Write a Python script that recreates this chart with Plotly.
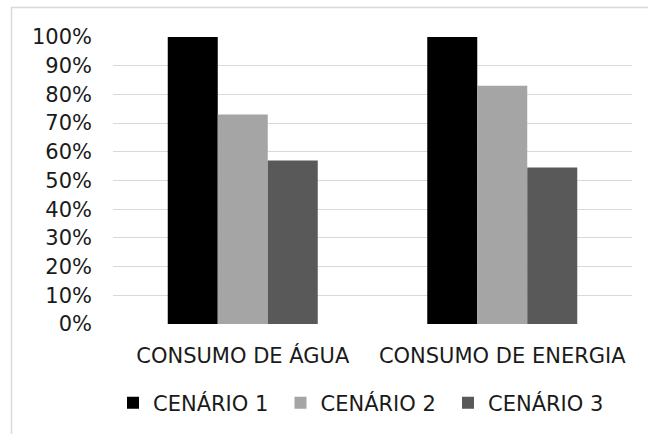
import plotly.graph_objects as go

# Relative consumption per scenario (fraction of scenario 1)
categories = ["CONSUMO DE ÁGUA", "CONSUMO DE ENERGIA"]
series_names = ["CENÁRIO 1", "CENÁRIO 2", "CENÁRIO 3"]
cenario_1 = [1.00, 1.00]
cenario_2 = [0.73, 0.83]
cenario_3 = [0.57, 0.545]
tick_values = [0, 0.1, 0.2, 0.3, 0.4, 0.5, 0.6, 0.7, 0.8, 0.9, 1.0]

colors = ["#000000", "#A5A5A5", "#595959"]
FONT = "DejaVu Sans"
TEXT_COLOR = "#1a1a1a"
W, H = 648, 434
ML, MR, MT, MB = 113, 16, 37, 110

fig = go.Figure()
for name, vals, col in zip(series_names, [cenario_1, cenario_2, cenario_3], colors):
    fig.add_trace(go.Bar(
        x=categories, y=vals, name=name,
        marker=dict(color=col, line=dict(width=0)),
    ))

pw = W - ML - MR
ph = H - MT - MB


def px_to_paper_x(px):
    return (px - ML) / pw


def px_to_paper_y(py):
    return (H - MB - py) / ph


fig.update_layout(
    width=W, height=H,
    margin=dict(l=ML, r=MR, t=MT, b=MB, autoexpand=False),
    paper_bgcolor="white",
    plot_bgcolor="white",
    barmode="group",
    bargap=0.422,
    bargroupgap=0,
    font=dict(family=FONT, size=21, color=TEXT_COLOR),
    showlegend=True,
    legend=dict(
        orientation="h",
        xref="container", yref="container",
        x=113 / W, xanchor="left",
        y=1 - 403 / H, yanchor="middle",
        font=dict(family=FONT, size=21, color=TEXT_COLOR),
        entrywidth=122.5, entrywidthmode="pixels",
        bgcolor="rgba(0,0,0,0)",
        traceorder="normal",
    ),
    xaxis=dict(
        showgrid=False, zeroline=False, showline=False,
        ticks="", ticklabelstandoff=17, automargin=False,
        tickfont=dict(family=FONT, size=21, color=TEXT_COLOR),
    ),
    yaxis=dict(
        range=[0, 1], tickvals=tick_values, tickformat=".0%",
        showgrid=True, gridcolor="#D9D9D9", gridwidth=1.3,
        zeroline=False, showline=False, ticks="",
        ticklabelstandoff=20, automargin=False,
        tickfont=dict(family=FONT, size=21, color=TEXT_COLOR),
    ),
    shapes=[dict(
        type="rect", xref="paper", yref="paper",
        x0=px_to_paper_x(11.5), x1=px_to_paper_x(700),
        y0=px_to_paper_y(480), y1=px_to_paper_y(7.5),
        line=dict(color="#D9D9D9", width=1.5),
        fillcolor="rgba(0,0,0,0)", layer="below",
    )],
)

fig.write_html("out.html")
